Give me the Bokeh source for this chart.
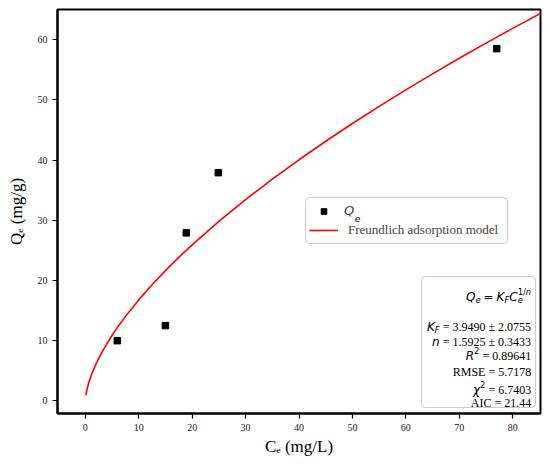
from bokeh.plotting import figure
from bokeh.models import Range1d, FixedTicker, Label, Legend, LegendItem, BoxAnnotation
from bokeh.embed import file_html
from bokeh.resources import INLINE

# ---- data ----
Ce_data = [6.0, 15.0, 18.9, 24.9, 77.0]
Qe_data = [10.0, 12.5, 27.9, 37.9, 58.5]

# Freundlich model curve
Ce_fit = [0.1, 0.25, 0.5, 0.75, 1, 1.5, 2, 2.5, 3, 4, 5, 6, 7.5, 10, 12.5, 15, 17.5, 20, 25, 30,
          35, 40, 45, 50, 55, 60, 65, 70, 75, 80, 86]
Qe_fit = [0.93, 1.65, 2.56, 3.30, 3.95, 5.09, 6.10, 7.02, 7.87, 9.43, 10.85, 12.17, 13.99, 16.77,
          19.29, 21.63, 23.83, 25.91, 29.81, 33.43, 36.82, 40.04, 43.12, 46.06, 48.90, 51.65,
          54.31, 56.90, 59.42, 61.87, 64.74]

x_ticks = [0, 10, 20, 30, 40, 50, 60, 70, 80]
y_ticks = [0, 10, 20, 30, 40, 50, 60]

stats_text = ["= 3.9490 ± 2.0755", "= 1.5925 ± 0.3433", "= 0.89641",
              "RMSE = 5.7178", "= 6.7403", "AIC = 21.44"]
legend_labels = ["Q", "Freundlich adsorption model"]
x_title = "Cₑ (mg/L)"
y_title = "Qₑ (mg/g)"

SERIF = "Liberation Serif"
MATH = "DejaVu Sans"

SER_W = {' ': 250, '=': 564, '±': 564, '.': 250, 'A': 722, 'I': 333, 'C': 667, 'R': 667,
         'M': 889, 'S': 556, 'E': 611, '(': 333, ')': 333, 'm': 778, 'g': 500, '/': 278, 'L': 611}
DJV_W = {'Q': 0.787, 'e': 0.615, 'K': 0.656, 'F': 0.575, 'C': 0.698, 'n': 0.634, 'R': 0.695,
         '2': 0.636, '1': 0.636, '/': 0.337, '=': 0.838, 'χ': 0.592}


def width(text, fam, size):
    if fam == "s":
        return sum(SER_W.get(c, 500) for c in text) / 1000.0 * size
    return sum(DJV_W.get(c, 0.63) for c in text) * size


p = figure(width=548, height=468, x_range=Range1d(-5.2, 85.2), y_range=Range1d(-2.1, 65.0),
           output_backend="svg", toolbar_location=None,
           min_border_left=57, min_border_right=8, min_border_top=9, min_border_bottom=55)
p.background_fill_color = "white"
p.border_fill_color = "white"
p.outline_line_color = "black"
p.outline_line_width = 2
p.xgrid.visible = False
p.ygrid.visible = False

for ax, ticks in ((p.xaxis[0], x_ticks), (p.yaxis[0], y_ticks)):
    ax.ticker = FixedTicker(ticks=ticks)
    ax.major_tick_out = 5
    ax.major_tick_in = 0
    ax.major_tick_line_width = 1.2
    ax.major_tick_line_color = "black"
    ax.minor_tick_line_color = None
    ax.axis_line_color = "black"
    ax.axis_line_width = 2
    ax.major_label_text_font = SERIF
    ax.major_label_text_font_size = "10px"
    ax.major_label_text_color = "#222222"
    ax.major_label_standoff = 5
    ax.axis_label_text_font = SERIF
    ax.axis_label_text_font_size = "17px"
    ax.axis_label_text_font_style = "normal"
    ax.axis_label_text_color = "black"

p.xaxis[0].axis_label = x_title
p.xaxis[0].axis_label_standoff = 3
p.yaxis[0].axis_label = y_title
p.yaxis[0].axis_label_standoff = 9

line_r = p.line(Ce_fit, Qe_fit, color="red", line_width=1.6)
sc_r = p.scatter(Ce_data, Qe_data, marker="square", size=6.5, color="black")


def lab(x, y, text, fam, size, style="normal"):
    p.add_layout(Label(x=x, y=y, x_units="screen", y_units="screen", text=text,
                       text_font=SERIF if fam == "s" else MATH,
                       text_font_size=f"{size}px", text_font_style=style,
                       text_align="left", text_baseline="alphabetic", text_color="black"))


def layout_segs(segs, x0):
    out = []
    pos = x0
    for text, fam, style, size, dy, adv in segs:
        if text == "":
            pos += size
            continue
        out.append((pos, dy, text, fam, style, size))
        if adv:
            pos += width(text, fam, size)
    return out


def total(segs):
    t = 0.0
    for text, fam, style, size, dy, adv in segs:
        if text == "":
            t += size
        elif adv:
            t += width(text, fam, size)
    return t


# ---- legend box ----
p.add_layout(BoxAnnotation(left=248, right=450, bottom=170, top=216,
                           left_units="screen", right_units="screen",
                           top_units="screen", bottom_units="screen",
                           fill_color="white", fill_alpha=1.0,
                           line_color="#555555", line_width=1, border_radius=4))

legA = Legend(items=[LegendItem(label=legend_labels[0], renderers=[sc_r])],
              location=(252, 195), padding=0, margin=0, spacing=0,
              glyph_width=29, glyph_height=14, label_height=14, label_standoff=6,
              label_text_font=MATH, label_text_font_style="italic", label_text_font_size="13px",
              background_fill_alpha=0, border_line_color=None)
legB = Legend(items=[LegendItem(label=legend_labels[1], renderers=[line_r])],
              location=(252, 175), padding=0, margin=0, spacing=0,
              glyph_width=29, glyph_height=14, label_height=14, label_standoff=10,
              label_text_font=SERIF, label_text_font_size="13px",
              background_fill_alpha=0, border_line_color=None)
p.add_layout(legA)
p.add_layout(legB)
lab(287 + width("Q", "m", 13), 194.8, "e", "m", 9, "italic")

# ---- statistics box ----
p.add_layout(BoxAnnotation(left=364, right=478, bottom=6, top=137,
                           left_units="screen", right_units="screen",
                           top_units="screen", bottom_units="screen",
                           fill_color="white", fill_alpha=1.0,
                           line_color="#555555", line_width=1, border_radius=4))

S, SB = 12, 8.4
sp = width(" ", "s", S)
lines = [
    [("Q", "m", "italic", S, 0, True), ("e", "m", "italic", SB, -2.5, True), ("", 0, 0, 3, 0, 0),
     ("=", "m", "normal", S, 0, True), ("", 0, 0, 3, 0, 0),
     ("K", "m", "italic", S, 0, True), ("F", "m", "italic", SB, -2.5, True),
     ("C", "m", "italic", S, 0, True), ("e", "m", "italic", SB, -2.5, False),
     ("1/", "m", "normal", SB, 5.5, True), ("n", "m", "italic", SB, 5.5, True)],
    [("K", "m", "italic", S, 0, True), ("F", "m", "italic", SB, -2.5, True), ("", 0, 0, sp, 0, 0),
     (stats_text[0], "s", "normal", S, 0, True)],
    [("n", "m", "italic", S, 0, True), ("", 0, 0, sp, 0, 0), (stats_text[1], "s", "normal", S, 0, True)],
    [("R", "m", "italic", S, 0, True), ("2", "m", "normal", SB, 5, True), ("", 0, 0, sp, 0, 0),
     (stats_text[2], "s", "normal", S, 0, True)],
    [(stats_text[3], "s", "normal", S, 0, True)],
    [("χ", "m", "italic", S, 0, True), ("2", "m", "normal", SB, 5, True), ("", 0, 0, sp, 0, 0),
     (stats_text[4], "s", "normal", S, 0, True)],
    [(stats_text[5], "s", "normal", S, 0, True)],
]
baselines = [116.3, 86.3, 71.3, 58.0, 41.3, 23.7, 10.3]
x_right = 473.7
for segs, b in zip(lines, baselines):
    for pos, dy, text, fam, style, size in layout_segs(segs, x_right - total(segs)):
        lab(pos, b + dy, text, fam, size, style)

open("out.html", "w").write(file_html(p, INLINE))
